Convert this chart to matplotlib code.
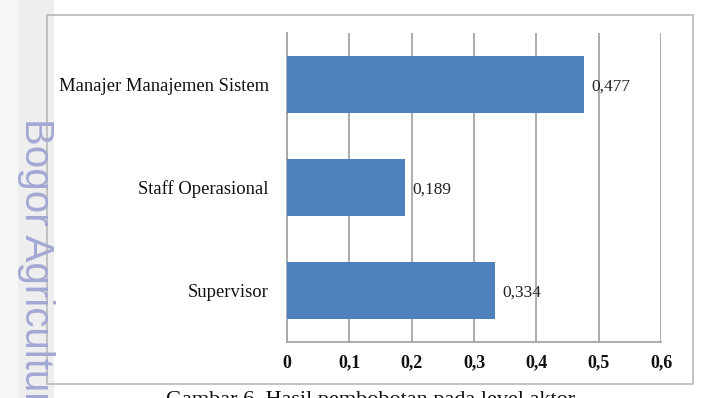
import matplotlib
matplotlib.use("Agg")
import matplotlib.pyplot as plt
from matplotlib.patches import Rectangle

# data
categories = ['Manajer Manajemen Sistem', 'Staff Operasional', 'Supervisor']
values = [0.477, 0.189, 0.334]
value_labels = ['0,477', '0,189', '0,334']
xticks = [0, 0.1, 0.2, 0.3, 0.4, 0.5, 0.6]
xtick_labels = ['0', '0,1', '0,2', '0,3', '0,4', '0,5', '0,6']
caption = 'Gambar 6. Hasil pembobotan pada level aktor'
watermark = 'Bogor Agricultural University'

W, H = 705, 398
fig = plt.figure(figsize=(W / 100, H / 100), dpi=100)
fig.patch.set_facecolor('white')

def px(x, y):
    return x / W, 1 - y / H

# gray margin strip on the left
fig.patches.append(Rectangle((0, 0), 18 / W, 1, transform=fig.transFigure,
                             facecolor='#f6f6f6', edgecolor='none', zorder=-2))
fig.patches.append(Rectangle((18 / W, 0), 36 / W, 1, transform=fig.transFigure,
                             facecolor='#eeeeee', edgecolor='none', zorder=-2))

# outer chart frame
x0, y0 = px(47, 384)
x1, y1 = px(693, 15)
fig.patches.append(Rectangle((x0, y0), x1 - x0, y1 - y0, transform=fig.transFigure,
                             facecolor='none', edgecolor='#bdbdbd', linewidth=1.3, zorder=-1))

# watermark (runs off the page edge like the scan)
fig.text(36 / W, 1 - 118 / H, watermark, rotation=-90, va='top', ha='center',
         fontsize=29, color='#a3a8d4', family='Liberation Sans', zorder=-1)

# plot area
l, b = px(287, 342)
r, t = px(661, 33)
ax = fig.add_axes([l, b, r - l, t - b])
ax.set_facecolor('none')

ypos = list(range(len(categories)))
ax.barh(ypos, values, height=0.56, color='#4f81bd', zorder=3)
ax.set_xlim(0, 0.6)
ax.set_ylim(2.5, -0.5)

for y, v, lab in zip(ypos, values, value_labels):
    ax.text(v + 0.012, y + 0.02, lab, va='center', ha='left', fontsize=12.5,
            family='Liberation Serif', color='#222222', zorder=4)

ax.set_xticks(xticks)
ax.set_xticklabels(xtick_labels, family='Liberation Serif', fontsize=13,
                   fontweight='bold', color='#111111')
ax.set_yticks(ypos)
ax.set_yticklabels(categories, family='Liberation Serif', fontsize=13.4, color='#111111')
ax.tick_params(axis='both', length=0)
ax.tick_params(axis='y', pad=13)
ax.tick_params(axis='x', pad=9)

ax.grid(True, axis='x', color='#a6a6a6', linewidth=1.3, zorder=1)
for s in ['top', 'right']:
    ax.spines[s].set_visible(False)
ax.spines['left'].set_color('#a6a6a6')
ax.spines['bottom'].set_color('#a6a6a6')
ax.spines['left'].set_linewidth(1.3)
ax.spines['bottom'].set_linewidth(1.3)

# caption, cut by the page edge
fig.text(166 / W, 1 - 391 / H, caption, va='top', ha='left', fontsize=16,
         family='Liberation Serif', color='#111111')

fig.savefig('out.png', dpi=100)
